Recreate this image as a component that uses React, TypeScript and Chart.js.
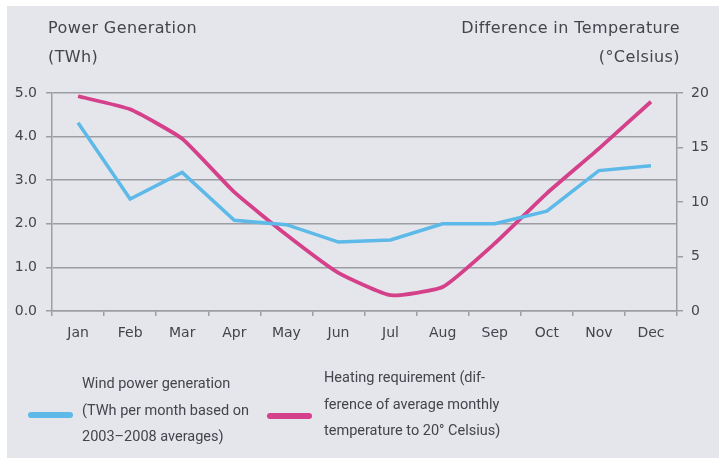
import { useEffect, useRef } from "react";
import { Chart, registerables } from "chart.js";

Chart.register(...registerables);

const months = ["Jan", "Feb", "Mar", "Apr", "May", "Jun", "Jul", "Aug", "Sep", "Oct", "Nov", "Dec"];
const windPower = [4.32, 2.57, 3.18, 2.08, 1.98, 1.58, 1.63, 2.0, 2.0, 2.29, 3.22, 3.33];
const heatingRequirement = [19.7, 18.5, 15.8, 10.9, 7.0, 3.5, 1.45, 2.2, 6.2, 10.8, 14.9, 19.2];
const leftTitle = ["Power Generation", "(TWh)"];
const rightTitle = ["Difference in Temperature", "(°Celsius)"];
const windLegend = ["Wind power generation", "(TWh per month based on", "2003–2008 averages)"];
const heatLegend = ["Heating requirement (dif-", "ference of average monthly", "temperature to  20° Celsius)"];

const BLUE = "#5cb9e8";
const PINK = "#d5408a";
const TEXT = "#43454b";
const GRID = "#9d9ea3";
const BG = "#e5e6eb";
const FONT = "Roboto, 'Noto Sans', sans-serif";
const WIDE = "'DejaVu Sans', sans-serif";

export default function App() {
  const ref = useRef<HTMLCanvasElement | null>(null);

  useEffect(() => {
    if (!ref.current) return;
    const chart = new Chart(ref.current, {
      type: "line",
      data: {
        labels: months,
        datasets: [
          {
            label: "Wind power generation",
            data: windPower,
            borderColor: BLUE,
            backgroundColor: BLUE,
            borderWidth: 3.5,
            pointRadius: 0,
            tension: 0,
            yAxisID: "y",
          },
          {
            label: "Heating requirement",
            data: heatingRequirement,
            borderColor: PINK,
            backgroundColor: PINK,
            borderWidth: 3.8,
            pointRadius: 0,
            tension: 0.15,
            yAxisID: "y1",
          },
        ],
      },
      options: {
        responsive: false,
        animation: false,
        layout: { padding: { top: 87, bottom: 107, left: 0, right: 0 } },
        plugins: { legend: { display: false }, tooltip: { enabled: false } },
        scales: {
          x: {
            offset: true,
            grid: { display: true, drawOnChartArea: false, drawTicks: true, tickLength: 5, color: GRID, lineWidth: 1.5, offset: true },
            border: { display: true, color: GRID, width: 1.5 },
            ticks: { color: TEXT, font: { family: WIDE, size: 14 }, padding: 9 },
            afterFit: (s: any) => { s.height = 40; },
          },
          y: {
            position: "left",
            min: 0,
            max: 5,
            ticks: { stepSize: 1, color: TEXT, font: { family: WIDE, size: 14 }, padding: 9, callback: (v: any) => Number(v).toFixed(1) },
            grid: { color: GRID, lineWidth: 1.5, tickLength: 6 },
            border: { display: true, color: GRID, width: 1.5 },
            afterFit: (s: any) => { s.width = 45; },
          },
          y1: {
            position: "right",
            min: 0,
            max: 20,
            ticks: { stepSize: 5, color: TEXT, font: { family: WIDE, size: 14 }, padding: 8 },
            grid: { drawOnChartArea: false, color: GRID, lineWidth: 1.5, tickLength: 6 },
            border: { display: true, color: GRID, width: 1.5 },
            afterFit: (s: any) => { s.width = 42; },
          },
        },
      },
    });
    return () => chart.destroy();
  }, []);

  const textStyle: React.CSSProperties = {
    position: "absolute",
    fontFamily: FONT,
    fontSize: 14.5,
    color: TEXT,
    lineHeight: "26.5px",
    whiteSpace: "nowrap",
  };
  const titleStyle: React.CSSProperties = {
    ...textStyle,
    fontFamily: WIDE,
    fontSize: 16,
    letterSpacing: "0.4px",
    lineHeight: "29px",
    top: 7,
  };

  return (
    <div style={{ position: "absolute", left: 7, top: 6, width: 712, height: 452, background: BG, overflow: "hidden" }}>
      <canvas ref={ref} width={712} height={452} style={{ position: "absolute", left: 0, top: 0 }} />
      <div style={{ ...titleStyle, left: 41 }}>
        {leftTitle.map((t) => <div key={t}>{t}</div>)}
      </div>
      <div style={{ ...titleStyle, right: 39, textAlign: "right" }}>
        {rightTitle.map((t) => <div key={t}>{t}</div>)}
      </div>
      <div style={{ position: "absolute", left: 21, top: 406, width: 45, height: 6, borderRadius: 3, background: BLUE }} />
      <div style={{ ...textStyle, left: 75, top: 365 }}>
        {windLegend.map((t) => <div key={t}>{t}</div>)}
      </div>
      <div style={{ position: "absolute", left: 260, top: 407, width: 45, height: 6, borderRadius: 3, background: PINK }} />
      <div style={{ ...textStyle, left: 317, top: 359 }}>
        {heatLegend.map((t) => <div key={t}>{t}</div>)}
      </div>
    </div>
  );
}
